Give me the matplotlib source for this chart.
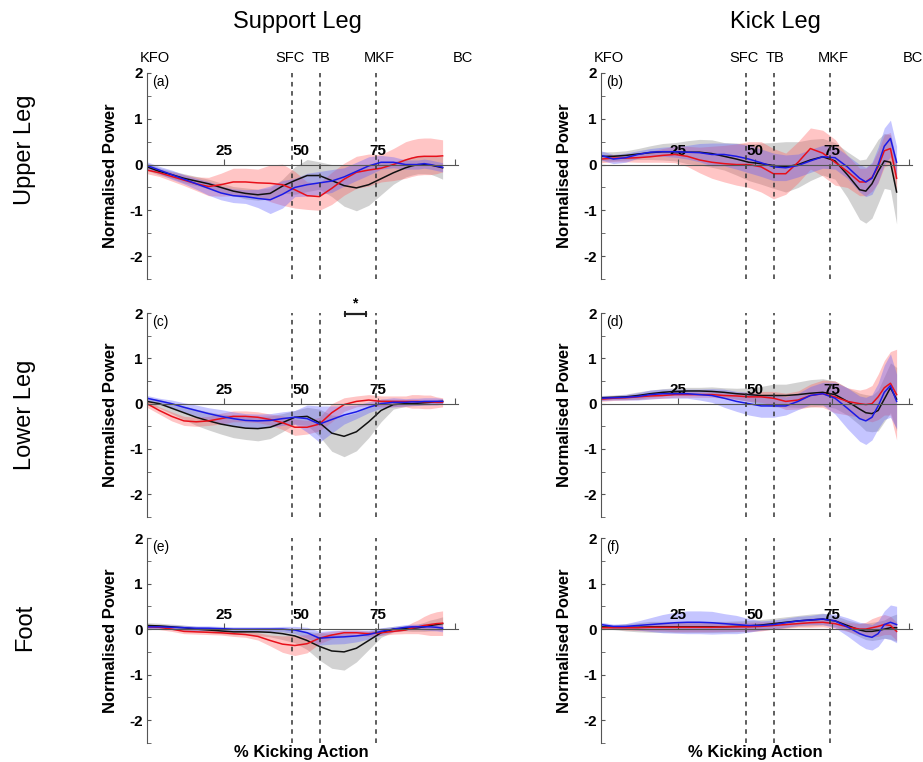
import numpy as np
import matplotlib
matplotlib.use("Agg")
import matplotlib.pyplot as plt
from matplotlib.ticker import MultipleLocator

plt.rcParams['font.family'] = ['Liberation Sans', 'DejaVu Sans']

# % kicking action sample points (shared by all panels)
x = [0, 4, 8, 12, 16, 20, 24, 28, 32, 36, 40, 44, 48, 52, 56, 60, 64, 68,
     72, 76, 80, 84, 86, 88, 90, 92, 94, 96]

# event markers
events = ['KFO', 'SFC', 'TB', 'MKF', 'BC']
event_label_x = [2.5, 46.3, 56.4, 75.4, 102.5]
event_lines = [47.2, 56.3, 74.5]

# (a) support leg - upper leg
a_black = [-0.05, -0.15, -0.22, -0.30, -0.36, -0.42, -0.50, -0.58, -0.63, -0.66, -0.63, -0.47, -0.35, -0.24,
           -0.24, -0.35, -0.46, -0.51, -0.44, -0.31, -0.18, -0.07, -0.03, 0.0, 0.0, -0.01, -0.04, -0.07]
a_black_sd = [0.08, 0.08, 0.08, 0.1, 0.1, 0.1, 0.1, 0.1, 0.12, 0.12, 0.12, 0.15, 0.3, 0.35,
              0.3, 0.35, 0.45, 0.5, 0.45, 0.35, 0.25, 0.2, 0.2, 0.2, 0.2, 0.2, 0.22, 0.25]
a_red = [-0.12, -0.18, -0.26, -0.34, -0.42, -0.48, -0.44, -0.38, -0.38, -0.40, -0.41, -0.44, -0.55, -0.68,
         -0.70, -0.52, -0.32, -0.17, -0.12, -0.08, 0.0, 0.10, 0.14, 0.17, 0.18, 0.18, 0.18, 0.19]
a_red_sd = [0.08, 0.08, 0.1, 0.12, 0.15, 0.2, 0.25, 0.3, 0.3, 0.3, 0.4, 0.45, 0.4, 0.3,
            0.3, 0.35, 0.35, 0.35, 0.35, 0.3, 0.35, 0.4, 0.4, 0.4, 0.4, 0.4, 0.38, 0.35]
a_blue = [-0.02, -0.12, -0.22, -0.32, -0.42, -0.52, -0.62, -0.68, -0.70, -0.74, -0.77, -0.65, -0.50, -0.44,
          -0.40, -0.36, -0.27, -0.15, -0.03, 0.05, 0.05, 0.0, 0.0, 0.0, 0.02, 0.0, -0.03, -0.06]
a_blue_sd = [0.08, 0.08, 0.1, 0.1, 0.12, 0.15, 0.15, 0.15, 0.15, 0.2, 0.3, 0.3, 0.2, 0.25,
             0.25, 0.25, 0.2, 0.2, 0.2, 0.15, 0.12, 0.1, 0.1, 0.1, 0.1, 0.1, 0.1, 0.1]

# (b) kick leg - upper leg
b_black = [0.18, 0.18, 0.2, 0.23, 0.26, 0.28, 0.28, 0.27, 0.27, 0.24, 0.18, 0.12, 0.05, 0.02,
           -0.02, -0.05, 0.0, 0.1, 0.17, 0.08, -0.22, -0.55, -0.58, -0.42, -0.15, 0.08, 0.05, -0.6]
b_black_sd = [0.1, 0.1, 0.1, 0.12, 0.15, 0.18, 0.2, 0.25, 0.28, 0.3, 0.3, 0.35, 0.4, 0.45,
              0.5, 0.55, 0.5, 0.45, 0.4, 0.4, 0.5, 0.65, 0.7, 0.75, 0.7, 0.6, 0.6, 0.7]
b_red = [0.12, 0.14, 0.14, 0.15, 0.17, 0.2, 0.22, 0.18, 0.1, 0.05, 0.02, 0.0, 0.0, -0.05,
         -0.2, -0.2, 0.05, 0.35, 0.25, 0.05, -0.15, -0.38, -0.38, -0.28, -0.05, 0.3, 0.35, -0.3]
b_red_sd = [0.08, 0.08, 0.08, 0.1, 0.12, 0.15, 0.18, 0.22, 0.28, 0.35, 0.4, 0.45, 0.5, 0.55,
            0.55, 0.45, 0.45, 0.45, 0.5, 0.5, 0.35, 0.3, 0.3, 0.3, 0.35, 0.35, 0.35, 0.3]
b_blue = [0.2, 0.12, 0.15, 0.22, 0.27, 0.28, 0.28, 0.27, 0.26, 0.22, 0.22, 0.18, 0.12, 0.04,
          -0.05, -0.07, -0.02, 0.08, 0.17, 0.15, -0.05, -0.3, -0.38, -0.3, 0.0, 0.4, 0.57, 0.05]
b_blue_sd = [0.1, 0.1, 0.1, 0.08, 0.08, 0.1, 0.12, 0.15, 0.2, 0.25, 0.25, 0.28, 0.3, 0.3,
             0.3, 0.28, 0.25, 0.25, 0.25, 0.25, 0.25, 0.3, 0.32, 0.35, 0.38, 0.4, 0.4, 0.35]

# (c) support leg - lower leg
c_black = [0.05, 0.0, -0.1, -0.2, -0.3, -0.38, -0.45, -0.5, -0.54, -0.55, -0.52, -0.42, -0.3, -0.28,
           -0.42, -0.65, -0.72, -0.62, -0.4, -0.15, -0.02, 0.0, 0.0, 0.01, 0.02, 0.03, 0.04, 0.05]
c_black_sd = [0.08, 0.1, 0.12, 0.15, 0.18, 0.2, 0.22, 0.25, 0.25, 0.27, 0.25, 0.2, 0.15, 0.2,
              0.3, 0.4, 0.45, 0.42, 0.35, 0.25, 0.1, 0.06, 0.05, 0.05, 0.05, 0.05, 0.05, 0.06]
c_red = [0.0, -0.15, -0.28, -0.38, -0.4, -0.38, -0.33, -0.28, -0.28, -0.3, -0.35, -0.42, -0.52, -0.52,
         -0.45, -0.2, -0.02, 0.05, 0.08, 0.05, 0.05, 0.05, 0.05, 0.05, 0.04, 0.04, 0.03, 0.03]
c_red_sd = [0.08, 0.08, 0.1, 0.1, 0.1, 0.1, 0.12, 0.12, 0.12, 0.12, 0.12, 0.15, 0.18, 0.15,
            0.15, 0.2, 0.15, 0.12, 0.12, 0.12, 0.12, 0.12, 0.15, 0.15, 0.15, 0.15, 0.12, 0.1]
c_blue = [0.12, 0.06, 0.0, -0.08, -0.15, -0.22, -0.28, -0.33, -0.37, -0.38, -0.37, -0.33, -0.3, -0.33,
          -0.45, -0.35, -0.25, -0.18, -0.08, 0.0, 0.03, 0.03, 0.04, 0.04, 0.05, 0.05, 0.05, 0.05]
c_blue_sd = [0.06, 0.06, 0.08, 0.1, 0.12, 0.13, 0.15, 0.15, 0.15, 0.15, 0.15, 0.15, 0.15, 0.3,
             0.4, 0.3, 0.2, 0.15, 0.12, 0.1, 0.1, 0.08, 0.08, 0.08, 0.08, 0.08, 0.08, 0.06]

# (d) kick leg - lower leg
d_black = [0.13, 0.14, 0.15, 0.18, 0.22, 0.25, 0.27, 0.28, 0.28, 0.27, 0.25, 0.22, 0.2, 0.18,
           0.18, 0.18, 0.2, 0.23, 0.25, 0.2, 0.05, -0.12, -0.2, -0.22, -0.15, 0.1, 0.35, 0.1]
d_black_sd = [0.05, 0.05, 0.06, 0.08, 0.08, 0.08, 0.08, 0.08, 0.08, 0.1, 0.1, 0.12, 0.15, 0.2,
              0.25, 0.25, 0.28, 0.3, 0.3, 0.3, 0.3, 0.35, 0.4, 0.4, 0.45, 0.5, 0.55, 0.7]
d_red = [0.1, 0.12, 0.13, 0.15, 0.17, 0.18, 0.2, 0.2, 0.2, 0.2, 0.18, 0.17, 0.15, 0.15,
         0.12, 0.05, 0.08, 0.18, 0.22, 0.15, 0.05, 0.0, -0.02, 0.0, 0.15, 0.35, 0.45, 0.2]
d_red_sd = [0.05, 0.05, 0.05, 0.06, 0.06, 0.06, 0.06, 0.06, 0.06, 0.06, 0.06, 0.08, 0.1, 0.12,
            0.15, 0.18, 0.2, 0.25, 0.3, 0.35, 0.3, 0.3, 0.35, 0.4, 0.5, 0.6, 0.7, 1.0]
d_blue = [0.12, 0.13, 0.14, 0.16, 0.2, 0.22, 0.22, 0.22, 0.2, 0.18, 0.12, 0.05, 0.0, -0.05,
          -0.05, -0.05, 0.05, 0.18, 0.22, 0.12, -0.1, -0.33, -0.38, -0.3, -0.05, 0.25, 0.4, 0.05]
d_blue_sd = [0.05, 0.05, 0.06, 0.08, 0.1, 0.1, 0.1, 0.1, 0.12, 0.15, 0.2, 0.22, 0.25, 0.25,
             0.25, 0.2, 0.18, 0.2, 0.25, 0.35, 0.45, 0.5, 0.52, 0.5, 0.5, 0.6, 0.7, 0.6]

# (e) support leg - foot
e_black = [0.08, 0.07, 0.05, 0.03, 0.0, -0.02, -0.04, -0.06, -0.06, -0.06, -0.07, -0.1, -0.15, -0.25,
           -0.38, -0.48, -0.5, -0.42, -0.25, -0.08, 0.0, 0.02, 0.02, 0.03, 0.05, 0.08, 0.1, 0.12]
e_black_sd = [0.06, 0.06, 0.06, 0.06, 0.06, 0.06, 0.06, 0.06, 0.06, 0.08, 0.1, 0.13, 0.15, 0.2,
              0.3, 0.38, 0.4, 0.3, 0.2, 0.1, 0.06, 0.06, 0.07, 0.08, 0.1, 0.12, 0.13, 0.15]
e_red = [0.05, 0.04, 0.0, -0.05, -0.06, -0.07, -0.08, -0.1, -0.12, -0.16, -0.25, -0.33, -0.36, -0.32,
         -0.2, -0.13, -0.08, -0.08, -0.1, -0.08, -0.05, -0.02, 0.02, 0.05, 0.08, 0.1, 0.12, 0.13]
e_red_sd = [0.05, 0.05, 0.05, 0.05, 0.05, 0.05, 0.05, 0.06, 0.06, 0.08, 0.12, 0.18, 0.22, 0.2,
            0.12, 0.08, 0.06, 0.06, 0.06, 0.06, 0.06, 0.08, 0.12, 0.15, 0.2, 0.24, 0.26, 0.27]
e_blue = [0.05, 0.05, 0.04, 0.03, 0.02, 0.02, 0.01, 0.0, 0.0, 0.0, 0.0, 0.0, -0.02, -0.08,
          -0.2, -0.18, -0.17, -0.15, -0.12, -0.05, 0.0, 0.04, 0.05, 0.05, 0.05, 0.05, 0.04, 0.02]
e_blue_sd = [0.05, 0.05, 0.05, 0.05, 0.05, 0.05, 0.05, 0.05, 0.05, 0.05, 0.05, 0.06, 0.08, 0.12,
             0.15, 0.15, 0.15, 0.13, 0.1, 0.08, 0.06, 0.06, 0.06, 0.06, 0.07, 0.08, 0.08, 0.08]

# (f) kick leg - foot
f_black = [0.05, 0.04, 0.04, 0.04, 0.05, 0.05, 0.05, 0.05, 0.05, 0.05, 0.05, 0.06, 0.07, 0.09,
           0.12, 0.15, 0.18, 0.2, 0.22, 0.18, 0.08, -0.02, -0.05, -0.05, -0.03, 0.0, 0.03, 0.03]
f_black_sd = [0.05, 0.05, 0.08, 0.1, 0.12, 0.12, 0.12, 0.12, 0.12, 0.12, 0.12, 0.12, 0.12, 0.12,
              0.12, 0.12, 0.12, 0.13, 0.13, 0.12, 0.12, 0.15, 0.18, 0.2, 0.2, 0.2, 0.25, 0.3]
f_red = [0.03, 0.03, 0.03, 0.03, 0.04, 0.04, 0.04, 0.04, 0.04, 0.04, 0.05, 0.05, 0.05, 0.06,
         0.08, 0.1, 0.12, 0.14, 0.15, 0.12, 0.05, 0.0, 0.0, 0.03, 0.06, 0.1, 0.08, -0.05]
f_red_sd = [0.03, 0.03, 0.05, 0.06, 0.08, 0.08, 0.1, 0.1, 0.1, 0.1, 0.1, 0.1, 0.1, 0.1,
            0.08, 0.08, 0.08, 0.1, 0.1, 0.1, 0.1, 0.12, 0.15, 0.2, 0.22, 0.22, 0.2, 0.2]
f_blue = [0.1, 0.06, 0.06, 0.08, 0.1, 0.12, 0.14, 0.15, 0.15, 0.14, 0.12, 0.1, 0.08, 0.08,
          0.1, 0.14, 0.18, 0.2, 0.22, 0.18, 0.05, -0.1, -0.15, -0.18, -0.1, 0.1, 0.15, 0.1]
f_blue_sd = [0.05, 0.05, 0.06, 0.1, 0.15, 0.2, 0.23, 0.25, 0.25, 0.25, 0.22, 0.2, 0.15, 0.1,
             0.1, 0.1, 0.1, 0.1, 0.12, 0.15, 0.2, 0.25, 0.28, 0.28, 0.28, 0.3, 0.38, 0.4]

panels = {
    'a': [(a_black, a_black_sd), (a_red, a_red_sd), (a_blue, a_blue_sd)],
    'b': [(b_black, b_black_sd), (b_red, b_red_sd), (b_blue, b_blue_sd)],
    'c': [(c_black, c_black_sd), (c_red, c_red_sd), (c_blue, c_blue_sd)],
    'd': [(d_black, d_black_sd), (d_red, d_red_sd), (d_blue, d_blue_sd)],
    'e': [(e_black, e_black_sd), (e_red, e_red_sd), (e_blue, e_blue_sd)],
    'f': [(f_black, f_black_sd), (f_red, f_red_sd), (f_blue, f_blue_sd)],
}

line_colors = ['#111111', '#e8101a', '#1a1ae6']
band_colors = ['#808080', '#ff5a5a', '#5a5aff']

fig = plt.figure(figsize=(9.23, 7.62), dpi=100)

col_x = [147 / 923, 601 / 923]
ax_w = 311 / 923
row_y = [(1 - 279 / 762, 206 / 762), (1 - 517 / 762, 204 / 762), (1 - 743 / 762, 205 / 762)]
letters = [['a', 'b'], ['c', 'd'], ['e', 'f']]

xs = np.array(x)
for r in range(3):
    for c in range(2):
        letter = letters[r][c]
        ax = fig.add_axes([col_x[c], row_y[r][0], ax_w, row_y[r][1]])

        # shaded SD bands then mean lines
        for (mean, sd), bc in zip(panels[letter], band_colors):
            m, s = np.array(mean), np.array(sd)
            ax.fill_between(xs, m - s, m + s, color=bc, alpha=0.35, lw=0)
        for (mean, sd), lc in zip(panels[letter], line_colors):
            ax.plot(xs, mean, color=lc, lw=1.1)

        for ev in event_lines:
            ax.axvline(ev, color='#333333', lw=1.1, ls=(0, (3, 3)))

        ax.set_xlim(0, 101)
        ax.set_ylim(-2.5, 2.0)
        for side in ['top', 'right']:
            ax.spines[side].set_visible(False)
        ax.spines['bottom'].set_position(('data', 0))
        ax.spines['bottom'].set_color('#555555')
        ax.spines['left'].set_color('#555555')

        ax.set_xticks([25, 50, 75, 100])
        ax.set_xticklabels(['25', '50', '75', ''], fontsize=11, fontweight='bold')
        ax.tick_params(axis='x', direction='in', length=4, pad=-15, color='#555555')

        ax.set_yticks([-2, -1, 0, 1, 2])
        ax.set_yticklabels(['-2', '-1', '0', '1', '2'], fontsize=11, fontweight='bold')
        ax.yaxis.set_minor_locator(MultipleLocator(0.5))
        ax.tick_params(axis='y', which='both', direction='in', length=3, pad=3, color='#555555')

        ax.set_ylabel('Normalised Power', fontsize=12, fontweight='bold')
        ax.yaxis.set_label_coords(-0.093, 0.5)

        ax.text(1.8, 1.72, '(' + letter + ')', fontsize=10)

        if r == 0:
            for name, ex in zip(events, event_label_x):
                if name == 'BC' and c == 1:
                    ex = 101.3
                ax.text(ex, 2.17, name, fontsize=10.5, ha='center', va='bottom', clip_on=False)
        if r == 2:
            ax.text(50, -2.55, '% Kicking Action', fontsize=12, fontweight='bold',
                    ha='center', va='top', clip_on=False)

        if letter == 'c':
            ax.plot([64.3, 71], [1.98, 1.98], color='#222222', lw=1.6, marker='|', ms=4,
                    mew=1.4, clip_on=False)
            ax.text(67.6, 2.05, '*', fontsize=10, fontweight='bold', ha='center', va='bottom',
                    clip_on=False)

# column and row titles
fig.text(297 / 923, 1 - 22 / 762, 'Support Leg', fontsize=17, ha='center', va='center')
fig.text(775 / 923, 1 - 22 / 762, 'Kick Leg', fontsize=17, ha='center', va='center')
for label, py in zip(['Upper Leg', 'Lower Leg', 'Foot'], [150, 415, 627]):
    fig.text(25 / 923, 1 - py / 762, label, fontsize=17, rotation=90, ha='center', va='center')

fig.savefig('out.png', dpi=100)
